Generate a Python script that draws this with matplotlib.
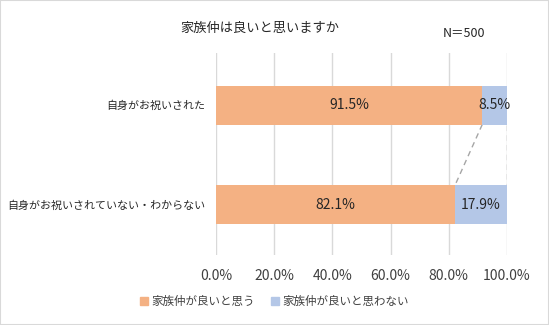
import matplotlib
matplotlib.use("Agg")
import matplotlib.pyplot as plt
from matplotlib.patches import Rectangle

plt.rcParams['font.family'] = ['Noto Sans CJK JP', 'DejaVu Sans']

categories = ["自身がお祝いされた", "自身がお祝いされていない・わからない"]
agree = [91.5, 82.1]
disagree = [8.5, 17.9]
series_names = ["家族仲が良いと思う", "家族仲が良いと思わない"]
xticks = [0, 20, 40, 60, 80, 100]
title = "家族仲は良いと思いますか"
note = "N＝500"

c_agree = "#F4B183"
c_dis = "#B4C7E7"
grid_c = "#D9D9D9"

fig = plt.figure(figsize=(5.49, 3.25), dpi=100)
fig.patches.append(Rectangle((0, 0), 1, 1, transform=fig.transFigure,
                             fill=False, edgecolor="#D9D9D9", linewidth=1.5))

ax = fig.add_axes([0.3934, 0.2154, 0.5301, 0.6215])
ypos = list(range(len(categories)))
bh = 0.39
ax.barh(ypos, agree, height=bh, color=c_agree, zorder=3)
ax.barh(ypos, disagree, left=agree, height=bh, color=c_dis, zorder=3)

for y, a, d in zip(ypos, agree, disagree):
    ax.text(a / 2, y, f"{a:.1f}%", ha="center", va="center", fontsize=10, color="#262626", zorder=4)
    ax.text(a + d / 2, y, f"{d:.1f}%", ha="center", va="center", fontsize=10, color="#262626", zorder=4)

# series connector lines between the two bars
for x0, x1 in [(agree[0], agree[1]), (100, 100)]:
    ax.plot([x0, x1], [ypos[0] + bh / 2, ypos[1] - bh / 2], ls=(0, (4, 3)),
            color="#A6A6A6", lw=1, zorder=2)

ax.set_xlim(0, 100)
ax.set_ylim(1.5, -0.52)
ax.set_xticks(xticks)
ax.set_xticklabels([f"{t:.1f}%" for t in xticks], fontsize=10, color="#404040")
ax.set_yticks(ypos)
ax.set_yticklabels(categories, fontsize=7.9, color="#262626")
ax.tick_params(axis="both", length=0)
ax.tick_params(axis="x", pad=10)
ax.tick_params(axis="y", pad=8)
ax.grid(axis="x", color=grid_c, lw=1, zorder=0)
for s in ax.spines.values():
    s.set_visible(False)

fig.text(0.474, 0.914, title, ha="center", va="center", fontsize=9.5, color="#262626")
fig.text(0.807, 0.898, note, ha="left", va="center", fontsize=9, color="#262626")

handles = [Rectangle((0, 0), 1, 1, color=c_agree), Rectangle((0, 0), 1, 1, color=c_dis)]
fig.legend(handles, series_names, loc="center", bbox_to_anchor=(0.5, 0.071), ncol=2,
           frameon=False, fontsize=8.3, handlelength=0.7, handleheight=0.7,
           handletextpad=0.3, columnspacing=1.4, labelcolor="#404040")

fig.savefig("out.png", dpi=100)
